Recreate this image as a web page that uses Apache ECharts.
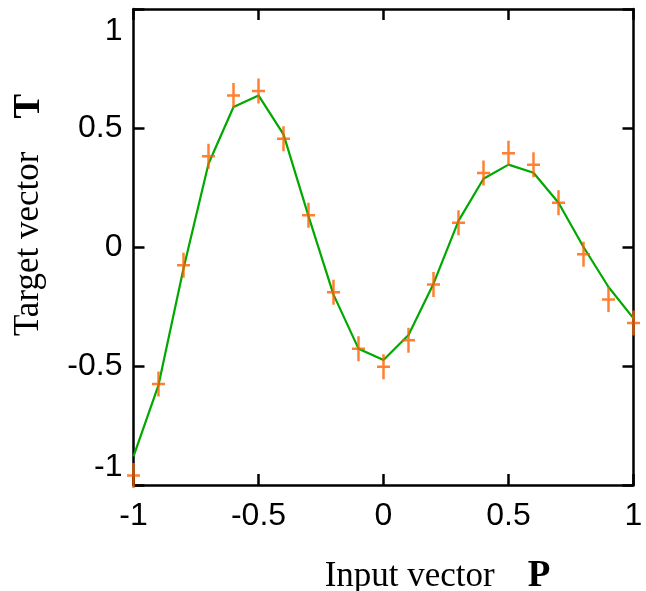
<!DOCTYPE html>
<html>
<head>
<meta charset="utf-8">
<script src="https://cdn.jsdelivr.net/npm/echarts@6/dist/echarts.min.js"></script>
<style>
html,body{margin:0;padding:0;background:#fff;}
#chart{width:646px;height:591px;}
</style>
</head>
<body>
<div id="chart"></div>
<script>
// Input vector P
var inputP = [-1, -0.9, -0.8, -0.7, -0.6, -0.5, -0.4, -0.3, -0.2, -0.1, 0, 0.1, 0.2, 0.3, 0.4, 0.5, 0.6, 0.7, 0.8, 0.9, 1];
// Target vector T (orange + markers)
var targetT = [-0.96, -0.576, -0.077, 0.381, 0.637, 0.655, 0.455, 0.133, -0.19, -0.427, -0.503, -0.392, -0.158, 0.102, 0.311, 0.394, 0.346, 0.186, -0.03, -0.221, -0.319];
// Network output (green line)
var outputA = [-0.88, -0.58, -0.09, 0.35, 0.588, 0.637, 0.473, 0.13, -0.2, -0.427, -0.475, -0.37, -0.154, 0.11, 0.287, 0.346, 0.312, 0.186, 0.0, -0.168, -0.30];
// Tick labels
var tickValues = [-1, -0.5, 0, 0.5, 1];
var xAxisTitle = 'Input vector';
var xAxisVar = 'P';
var yAxisTitle = 'Target vector';
var yAxisVar = 'T';

var targetData = inputP.map(function (p, i) { return [p, targetT[i]]; });
var outputData = inputP.map(function (p, i) { return [p, outputA[i]]; });

var frameStyle = { show: true, onZero: false, lineStyle: { color: '#000', width: 2.5 } };
var tickStyle = { show: true, inside: true, length: 11, lineStyle: { color: '#000', width: 2.5 } };
var labelFont = 'Liberation Sans, Arial, sans-serif';
var serif = 'Liberation Serif, Times New Roman, serif';

var chart = echarts.init(document.getElementById('chart'), null, { renderer: 'canvas' });
chart.setOption({
  animation: false,
  backgroundColor: '#fff',
  grid: { left: 133.5, right: 12.5, top: 9, bottom: 106, containLabel: false, outerBoundsMode: 'none' },
  xAxis: [{
    type: 'value', position: 'bottom', min: -1, max: 1, interval: 0.5,
    axisLine: frameStyle, axisTick: tickStyle, splitLine: { show: false },
    axisLabel: { show: true, margin: 15, color: '#000', fontSize: 32, fontFamily: labelFont,
      formatter: function (v) { return String(v); } },
    name: '{n|' + xAxisTitle + '}{b|' + xAxisVar + '}',
    nameLocation: 'middle', nameGap: 73,
    nameTextStyle: { color: '#000', padding: [0, 0, 0, 108],
      rich: { n: { fontFamily: serif, fontSize: 35, color: '#000' },
              b: { fontFamily: serif, fontSize: 37, fontWeight: 'bold', color: '#000', padding: [0, 0, 0, 33] } } }
  }, {
    type: 'value', position: 'top', min: -1, max: 1, interval: 0.5,
    axisLine: frameStyle, axisTick: tickStyle, splitLine: { show: false },
    axisLabel: { show: false }
  }],
  yAxis: [{
    type: 'value', position: 'left', min: -1, max: 1, interval: 0.5,
    axisLine: frameStyle, axisTick: tickStyle, splitLine: { show: false },
    axisLabel: { show: true, margin: 11, color: '#000', fontSize: 32, fontFamily: labelFont,
      formatter: function (v) {
        if (v === tickValues[tickValues.length - 1]) return '{mx|' + v + '}';
        if (v === tickValues[0]) return '{mn|' + v + '}';
        return String(v);
      },
      rich: {
        mx: { fontSize: 32, fontFamily: labelFont, color: '#000', padding: [44, 0, 0, 0] },
        mn: { fontSize: 32, fontFamily: labelFont, color: '#000', padding: [0, 0, 36, 0] }
      } },
    name: '{n|' + yAxisTitle + '}{b|' + yAxisVar + '}',
    nameLocation: 'middle', nameGap: 86, nameRotate: 90,
    nameTextStyle: { color: '#000', padding: [0, 0, 0, 64],
      rich: { n: { fontFamily: serif, fontSize: 35, color: '#000' },
              b: { fontFamily: serif, fontSize: 37, fontWeight: 'bold', color: '#000', padding: [0, 0, 0, 33] } } }
  }, {
    type: 'value', position: 'right', min: -1, max: 1, interval: 0.5,
    axisLine: frameStyle, axisTick: tickStyle, splitLine: { show: false },
    axisLabel: { show: false }
  }],
  series: [{
    name: 'Output', type: 'line', xAxisIndex: 0, yAxisIndex: 0,
    data: outputData, showSymbol: false, symbol: 'none',
    lineStyle: { color: '#00a800', width: 2.2 }, z: 2
  }, {
    name: 'Target', type: 'scatter', xAxisIndex: 0, yAxisIndex: 0,
    data: targetData,
    symbol: 'path://M5.25,0h2.5v25h-2.5z M0,11.25h13v2.5h-13z',
    symbolSize: [13, 25], symbolKeepAspect: false,
    itemStyle: { color: '#ff6000' }, z: 3
  }]
});
</script>
</body>
</html>
